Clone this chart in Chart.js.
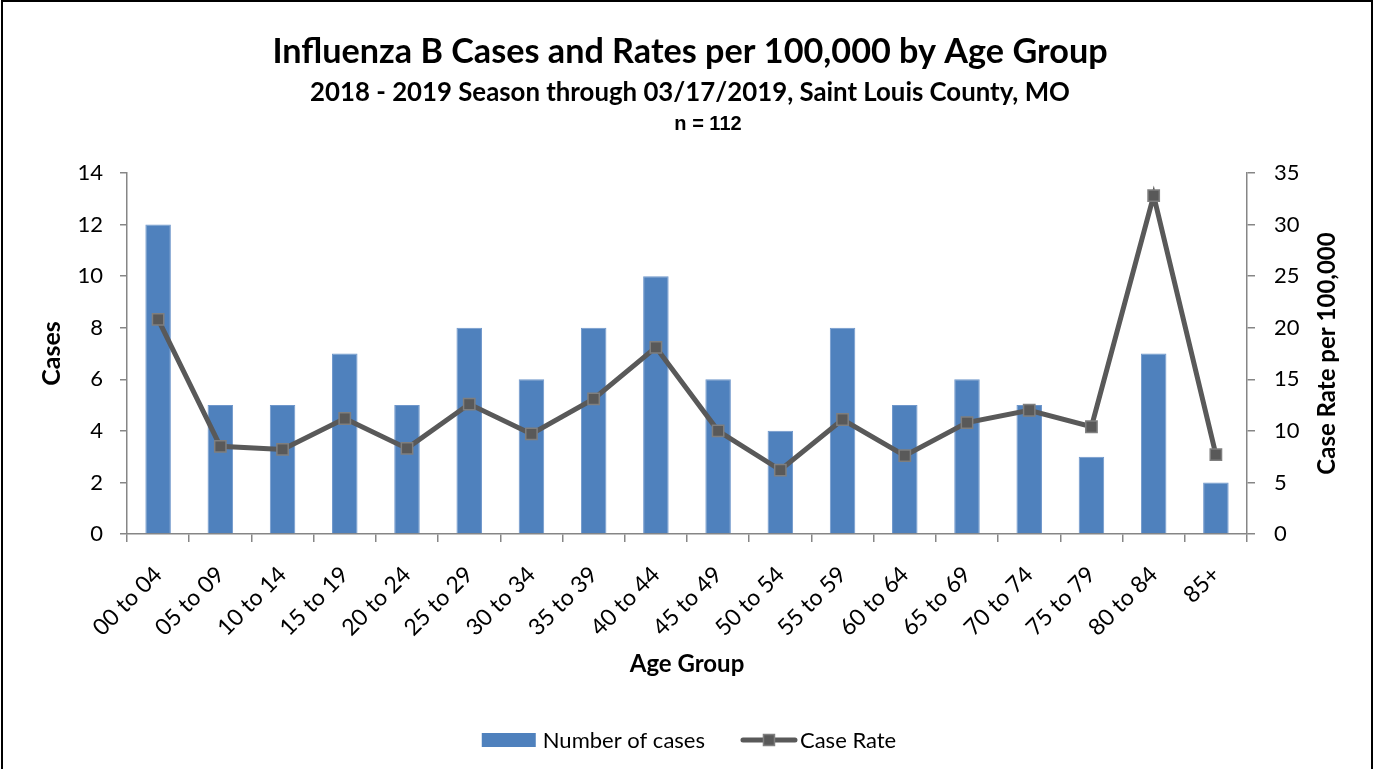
<!DOCTYPE html>
<html>
<head>
<meta charset="utf-8">
<title>Influenza B Cases and Rates per 100,000 by Age Group</title>
<script src="https://cdn.jsdelivr.net/npm/chart.js@4.4.1/dist/chart.umd.min.js"></script>
<style>
  html, body { margin: 0; padding: 0; background: #fff; overflow: hidden; }
  #frame { position: absolute; left: 1px; top: 0; width: 1368px; height: 800px; border: 2px solid #000; background: #fff; }
  #chartBox { position: relative; width: 1368px; height: 767px; }
</style>
</head>
<body>
<div id="frame">
  <div id="chartBox"><canvas id="fluChart"></canvas></div>
</div>
<script>
const chartTitle = 'Influenza B Cases and Rates per 100,000 by Age Group';
const chartSubtitle = '2018 - 2019 Season through 03/17/2019, Saint Louis County, MO';
const chartCount = 'n = 112';

const ageGroups = ['00 to 04', '05 to 09', '10 to 14', '15 to 19', '20 to 24', '25 to 29',
  '30 to 34', '35 to 39', '40 to 44', '45 to 49', '50 to 54', '55 to 59',
  '60 to 64', '65 to 69', '70 to 74', '75 to 79', '80 to 84', '85+'];
const caseCounts = [12, 5, 5, 7, 5, 8, 6, 8, 10, 6, 4, 8, 5, 6, 5, 3, 7, 2];
const caseRates = [20.8, 8.5, 8.2, 11.2, 8.3, 12.6, 9.7, 13.1, 18.1, 10.0, 6.2, 11.1, 7.6, 10.8, 12.0, 10.4, 32.8, 7.7];

const casesAxis = { min: 0, max: 14, step: 2 };
const rateAxis = { min: 0, max: 35, step: 5 };

const FONT = 'Lato, sans-serif';
const AXIS_GREY = '#868686';
const BAR_BLUE = '#4F81BD';
const LINE_GREY = '#595959';

// titles, right axis title and legend drawn straight onto the canvas
const decorPlugin = {
  id: 'decor',
  afterDraw(chart) {
    const ctx = chart.ctx;
    const cx = chart.width / 2;
    ctx.save();
    ctx.fillStyle = '#000';
    ctx.textAlign = 'center';
    ctx.textBaseline = 'middle';

    ctx.font = `bold 34.2px ${FONT}`;
    ctx.fillText(chartTitle, cx + 3, 50);
    ctx.font = `bold 25.8px ${FONT}`;
    ctx.fillText(chartSubtitle, cx + 3, 91);
    ctx.font = `bold 20px "Liberation Sans", Arial, sans-serif`;
    ctx.fillText(chartCount, cx + 21, 122);

    // right axis title, reading bottom to top
    const y1 = chart.scales.y1;
    const area = chart.chartArea;
    ctx.save();
    ctx.translate(y1.right - 44, (area.top + area.bottom) / 2);
    ctx.rotate(-Math.PI / 2);
    ctx.font = `bold 24px ${FONT}`;
    ctx.fillText('Case Rate per 100,000', 0, 0);
    ctx.restore();

    // legend
    const bars = chart.data.datasets[1];
    const line = chart.data.datasets[0];
    ctx.font = `22px ${FONT}`;
    ctx.textAlign = 'left';
    const symW = 54, gap = 7, itemGap = 36;
    const w1 = ctx.measureText(bars.label).width;
    const w2 = ctx.measureText(line.label).width;
    const total = symW + gap + w1 + itemGap + symW + 5 + w2;
    let x = cx - total / 2 + 2;
    const ly = 738;

    ctx.fillStyle = bars.backgroundColor;
    ctx.fillRect(x, ly - 7, symW, 14);
    ctx.fillStyle = '#000';
    ctx.fillText(bars.label, x + symW + gap, ly + 1);
    x += symW + gap + w1 + itemGap;

    ctx.strokeStyle = line.borderColor;
    ctx.lineWidth = 5;
    ctx.lineCap = 'round';
    ctx.beginPath();
    ctx.moveTo(x + 2, ly);
    ctx.lineTo(x + symW, ly);
    ctx.stroke();
    const mx = x + symW / 2 + 1;
    ctx.fillStyle = line.pointBackgroundColor;
    ctx.fillRect(mx - 5.5, ly - 5.5, 11, 11);
    ctx.strokeStyle = line.pointBorderColor;
    ctx.lineWidth = 1.5;
    ctx.strokeRect(mx - 5.5, ly - 5.5, 11, 11);
    ctx.fillStyle = '#000';
    ctx.fillText(line.label, x + symW + 5, ly + 1);

    ctx.restore();
  }
};

const ctx = document.getElementById('fluChart');

new Chart(ctx, {
  type: 'bar',
  data: {
    labels: ageGroups,
    datasets: [
      {
        type: 'line',
        label: 'Case Rate',
        data: caseRates,
        yAxisID: 'y1',
        borderColor: LINE_GREY,
        borderWidth: 5,
        tension: 0,
        pointStyle: 'rect',
        pointRadius: 8,
        pointBackgroundColor: LINE_GREY,
        pointBorderColor: '#7F7F7F',
        pointBorderWidth: 1.5,
        order: 1
      },
      {
        label: 'Number of cases',
        data: caseCounts,
        yAxisID: 'y',
        backgroundColor: BAR_BLUE,
        borderColor: '#6F97CB',
        borderWidth: 1,
        barPercentage: 0.41,
        categoryPercentage: 1.0,
        order: 2
      }
    ]
  },
  options: {
    responsive: true,
    maintainAspectRatio: false,
    animation: false,
    layout: { padding: { top: 171, left: 0, right: 0, bottom: 0 } },
    plugins: {
      legend: { display: false },
      tooltip: { enabled: false }
    },
    scales: {
      x: {
        grid: { display: true, drawOnChartArea: false, drawTicks: true, tickLength: 8, color: AXIS_GREY, lineWidth: 1.5, offset: true },
        border: { color: AXIS_GREY, width: 1.5 },
        ticks: { color: '#000', font: { family: FONT, size: 23 }, minRotation: 45, maxRotation: 45, autoSkip: false, padding: 19 },
        title: { display: true, text: 'Age Group', color: '#000', font: { family: FONT, size: 24, weight: 'bold' }, padding: { top: 0, bottom: 90 } },
        afterFit: (scale) => { scale.height = 235; }
      },
      y: {
        position: 'left',
        min: casesAxis.min,
        max: casesAxis.max,
        grid: { display: true, drawOnChartArea: false, drawTicks: true, tickLength: 7, color: AXIS_GREY, lineWidth: 1.5 },
        border: { color: AXIS_GREY, width: 1.5 },
        ticks: { stepSize: casesAxis.step, color: '#000', font: { family: FONT, size: 22 }, padding: 17 },
        title: { display: true, text: 'Cases', color: '#000', font: { family: FONT, size: 25, weight: 'bold' }, padding: { top: 34, bottom: 0 } },
        afterFit: (scale) => { scale.width = 124; }
      },
      y1: {
        position: 'right',
        min: rateAxis.min,
        max: rateAxis.max,
        grid: { display: true, drawOnChartArea: false, drawTicks: true, tickLength: 8, color: AXIS_GREY, lineWidth: 1.5 },
        border: { color: AXIS_GREY, width: 1.5 },
        ticks: { stepSize: rateAxis.step, color: '#000', font: { family: FONT, size: 22 }, padding: 19 },
        afterFit: (scale) => { scale.width = 124; }
      }
    }
  },
  plugins: [decorPlugin]
});
</script>
</body>
</html>
